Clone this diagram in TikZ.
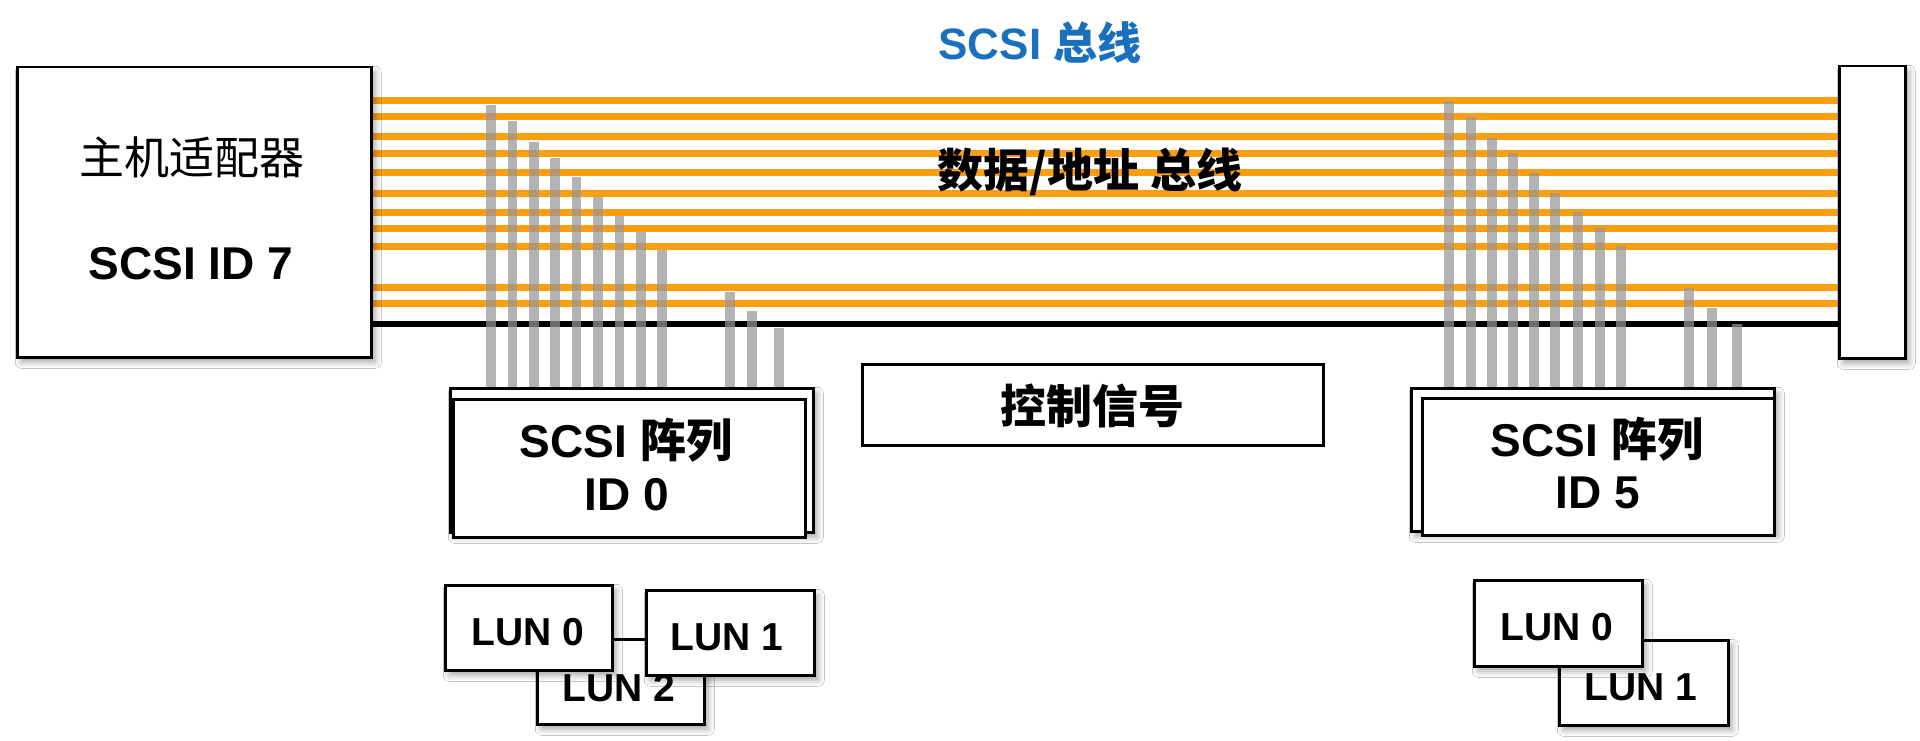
\documentclass[tikz,border=0pt]{standalone}
\usepackage{fontspec}
\setmainfont{Liberation Sans}
\newfontfamily\cjk{Noto Sans CJK SC}
\usetikzlibrary{shadows.blur}
\definecolor{busorange}{RGB}{250,158,18}
\definecolor{bargray}{RGB}{150,150,150}
\definecolor{titleblue}{RGB}{25,113,190}
\tikzset{
  box/.style={draw=black, line width=2.5pt, fill=white, inner sep=0pt, anchor=north west},
  shad/.style={blur shadow={shadow xshift=4pt, shadow yshift=-5pt, shadow blur radius=6pt, shadow opacity=35}},
  busline/.style={busorange, line width=7pt},
  ctrlline/.style={black, line width=6.5pt},
  pinline/.style={bargray, line width=9.5pt, opacity=0.72},
  lbl/.style={inner sep=0pt, font=\fontsize{46}{50}\selectfont\bfseries},
  lunlbl/.style={inner sep=0pt, font=\fontsize{39}{44}\selectfont\bfseries},
  arrlbl/.style={inner sep=0pt, font=\fontsize{46}{50}\selectfont\bfseries},
}
\begin{document}
\begin{tikzpicture}[x=1pt,y=-1pt]
\useasboundingbox[fill=white] (0,0) rectangle (1920,741);

\path (16,66) coordinate (hostNW);
\path (1838,65) coordinate (termNW);

% bus lines
\foreach \yy in {100.7,116.7,137.0,153.3,172.5,193.3,212.0,228.3,246.0,287.7,303.7}{
  \draw[busline] (370,\yy) -- (1838,\yy);
}
\draw[ctrlline] (370,324) -- (1838,324);

\path (449,387) coordinate (a0top);
\path (1410,387) coordinate (a5top);

% pins left array
\foreach \x/\t in {491/105,512.4/121,533.8/142,555.2/158,576.6/177,598/197,619.4/216,640.8/232,662.2/250,730/292,752/311,779/328}{
  \draw[pinline] (\x,\t) -- (\x,0 |- a0top);
}
% pins right array
\foreach \x/\t in {1449/101,1471/117,1492/138,1513/153,1534/173,1555/193,1578/212,1600/228,1621/246,1689/288,1712/308,1737/324}{
  \draw[pinline] (\x,\t) -- (\x,0 |- a5top);
}

% host adapter
\node[box, shad, minimum width=354pt, minimum height=290pt] (host) at (hostNW) {};
\node[inner sep=0pt, font=\fontsize{45}{50}\selectfont\cjk] (hostA) at (192,157) {主机适配器};
\node[lbl] (hostB) at (191,264) {SCSI ID 7};

% terminator
\node[box, shad, minimum width=66pt, minimum height=292pt] (term) at (termNW) {};

% titles
\node[inner sep=0pt, text=titleblue, font=\fontsize{44}{48}\selectfont\bfseries] (title) at (1040,43) {SCSI {\cjk 总线}};
\node[inner sep=0pt, font=\fontsize{46}{50}\selectfont\cjk\bfseries] (dbus) at (1090,172) {数据/地址 总线};

% array ID 0
\node[box, shad, minimum width=363pt, minimum height=144pt] (a0back) at (a0top) {};
\node[box, minimum width=352pt, minimum height=138pt] (a0front) at (452,398) {};
\node[arrlbl] (a0l1) at (626,440) {SCSI {\cjk 阵列}};
\node[arrlbl] (a0l2) at (627,495) {ID 0};

% array ID 5
\node[box, shad, minimum width=363pt, minimum height=143pt] (a5back) at (a5top) {};
\node[box, minimum width=352pt, minimum height=137pt] (a5front) at (1421,397) {};
\node[arrlbl] (a5l1) at (1597,439) {SCSI {\cjk 阵列}};
\node[arrlbl] (a5l2) at (1598,493) {ID 5};

% control signal
\node[box, minimum width=461pt, minimum height=81pt] (ctrl) at (861,363) {};
\node[inner sep=0pt, font=\fontsize{46}{50}\selectfont\cjk\bfseries] (ctrlt) at (1092,406) {控制信号};

% LUNs left
\node[box, shad, minimum width=167pt, minimum height=85pt] (l2) at (536,638) {};
\node[lunlbl] (l2t) at (619,688) {LUN 2};
\node[box, shad, minimum width=167pt, minimum height=85pt] (l0) at (444,584) {};
\node[lunlbl] (l0t) at (528,632) {LUN 0};
\node[box, shad, minimum width=168pt, minimum height=85pt] (l1) at (645,589) {};
\node[lunlbl] (l1t) at (727,637) {LUN 1};

% LUNs right
\node[box, shad, minimum width=169pt, minimum height=85pt] (r1) at (1558,639) {};
\node[lunlbl] (r1t) at (1641,687) {LUN 1};
\node[box, shad, minimum width=168pt, minimum height=86pt] (r0) at (1473,579) {};
\node[lunlbl] (r0t) at (1557,627) {LUN 0};
\end{tikzpicture}
\end{document}
